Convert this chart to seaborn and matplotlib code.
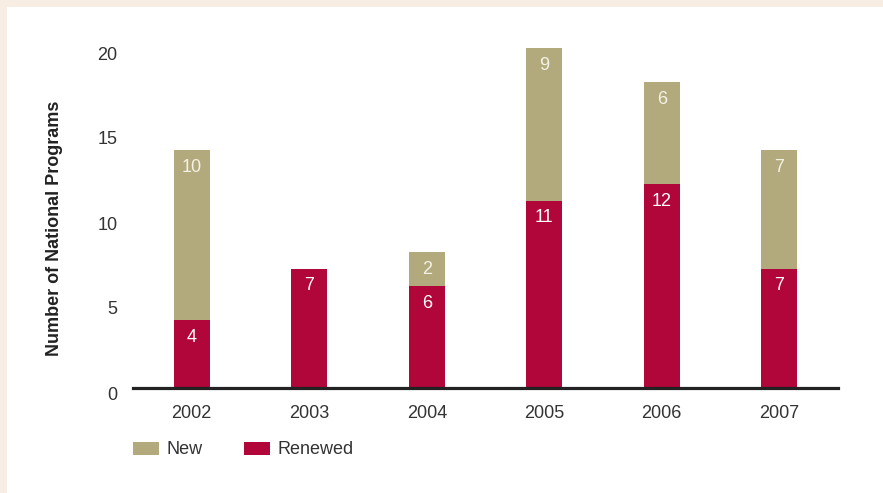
import pandas as pd
import matplotlib.pyplot as plt
import seaborn as sns
from matplotlib.patches import Patch, Rectangle
from matplotlib import transforms

years = ['2002', '2003', '2004', '2005', '2006', '2007']
renewed = [4, 7, 6, 11, 12, 7]
new = [10, 0, 2, 9, 6, 7]

col_new = '#B2AA7C'
col_renewed = '#B0063A'
txt_col = '#333333'

df = pd.DataFrame({'leto': years, 'renewed': renewed, 'new': new})
df['skupaj'] = df['renewed'] + df['new']

sns.set_style('white')
plt.rcParams['font.family'] = ['Liberation Sans', 'DejaVu Sans']

W, H = 883, 493
fig = plt.figure(figsize=(W / 100, H / 100), dpi=100)
fig.patch.set_facecolor('white')

# bež okvir zgoraj in levo
fig.patches.append(Rectangle((0, 1 - 7 / H), 1, 7 / H, transform=fig.transFigure,
                             facecolor='#F7EDE3', edgecolor='none', zorder=0))
fig.patches.append(Rectangle((0, 0), 7 / W, 1, transform=fig.transFigure,
                             facecolor='#F7EDE3', edgecolor='none', zorder=0))

ax = fig.add_axes([133 / W, 105 / H, 705 / W, 340 / H])

sns.barplot(data=df, x='leto', y='skupaj', color=col_new, width=0.31,
            saturation=1, linewidth=0, ax=ax)
sns.barplot(data=df, x='leto', y='renewed', color=col_renewed, width=0.31,
            saturation=1, linewidth=0, ax=ax)

for i, row in df.iterrows():
    ax.text(i, row['renewed'] - 1.0, str(row['renewed']), color='white',
            ha='center', va='center', fontsize=13)
    if row['new'] > 0:
        ax.text(i, row['skupaj'] - 1.0, str(row['new']), color='#F4F1E6',
                ha='center', va='center', fontsize=13)

ax.set_xlim(-0.5, 5.5)
ax.set_ylim(0, 20)
ax.set_yticks([0, 5, 10, 15, 20])
ax.set_xlabel('')
ax.set_ylabel('Number of National Programs', fontsize=13, fontweight='bold',
              color='#222222', labelpad=25)
ax.yaxis.label.set_y(0.47)

for s in ['top', 'right', 'left']:
    ax.spines[s].set_visible(False)
ax.spines['bottom'].set_color('#222222')
ax.spines['bottom'].set_linewidth(2.3)

ax.tick_params(axis='x', length=0, pad=12, labelsize=13, labelcolor=txt_col)
ax.tick_params(axis='y', length=0, pad=11, labelsize=13, labelcolor=txt_col)
premik = transforms.ScaledTranslation(0, -5 / 100, fig.dpi_scale_trans)
for lab in ax.get_yticklabels():
    lab.set_transform(lab.get_transform() + premik)

handles = [Patch(facecolor=col_new, edgecolor='none', label='New'),
           Patch(facecolor=col_renewed, edgecolor='none', label='Renewed')]
leg = fig.legend(handles=handles, loc='center left',
                 bbox_to_anchor=(133 / W, 1 - 450 / H), ncol=2, frameon=False,
                 fontsize=13, handlelength=1.45, handleheight=0.72,
                 handletextpad=0.4, columnspacing=2.3, borderpad=0,
                 borderaxespad=0)
for t in leg.get_texts():
    t.set_color(txt_col)

fig.savefig('out.png', dpi=100)
